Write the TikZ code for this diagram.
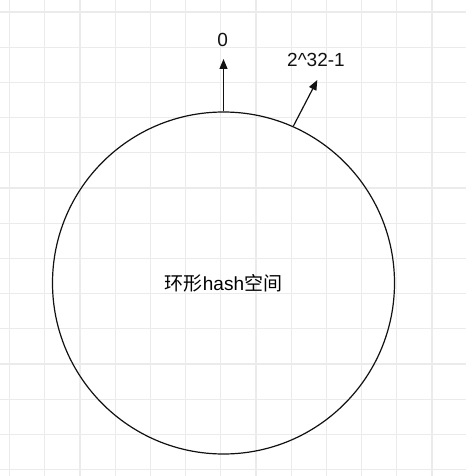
\documentclass[tikz,border=0pt]{standalone}
\usepackage{fontspec}
\setmainfont{Liberation Sans}
\newfontfamily\cjk{Noto Sans CJK SC}
\usetikzlibrary{arrows.meta}
\definecolor{gridgray}{HTML}{EBEBEB}
\definecolor{ink}{HTML}{111111}
\tikzstyle{gridline}=[gridgray, line width=1.2]
\tikzstyle{ring}=[draw=ink, line width=1.2, circle, minimum size=342, inner sep=0, font=\fontsize{19}{22}\selectfont]
\tikzstyle{mark label}=[ink, inner sep=0, font=\fontsize{19}{22}\selectfont]
\tikzstyle{pointer}=[ink, line width=1.2, -{Triangle[length=10pt, width=8pt]}]

\begin{document}
\begin{tikzpicture}[x=1pt, y=-1pt]
      \useasboundingbox[fill=white] (0,0) rectangle (466,476);

      % GRID
      \foreach \k in {0, ..., 12}{  % vertical lines
        \draw[gridline] (9.5+35.2*\k, 0) -- (9.5+35.2*\k, 476);
      }
      \foreach \k in {0, ..., 13}{  % horizontal lines
        \draw[gridline] (0, 12+35.2*\k) -- (466, 12+35.2*\k);
      }

      % HASH RING
      \node[ring] (ring) at (223.5, 283) {{\cjk 环形}hash{\cjk 空间}};

      % ARROW TIPS
      \coordinate (tip0) at (223.5, 59);
      \coordinate (tipmax) at (317.3, 80);

      % LABELS
      \node[mark label] (zero) at (222.7, 40) {0};
      \node[mark label] (max) at (316, 59.5) {2\^{}32-1};

      % ARROWS
      \draw[pointer] (ring.north) -- (tip0);
      \draw[pointer] (ring.66) -- (tipmax);
    \end{tikzpicture}
\end{document}
